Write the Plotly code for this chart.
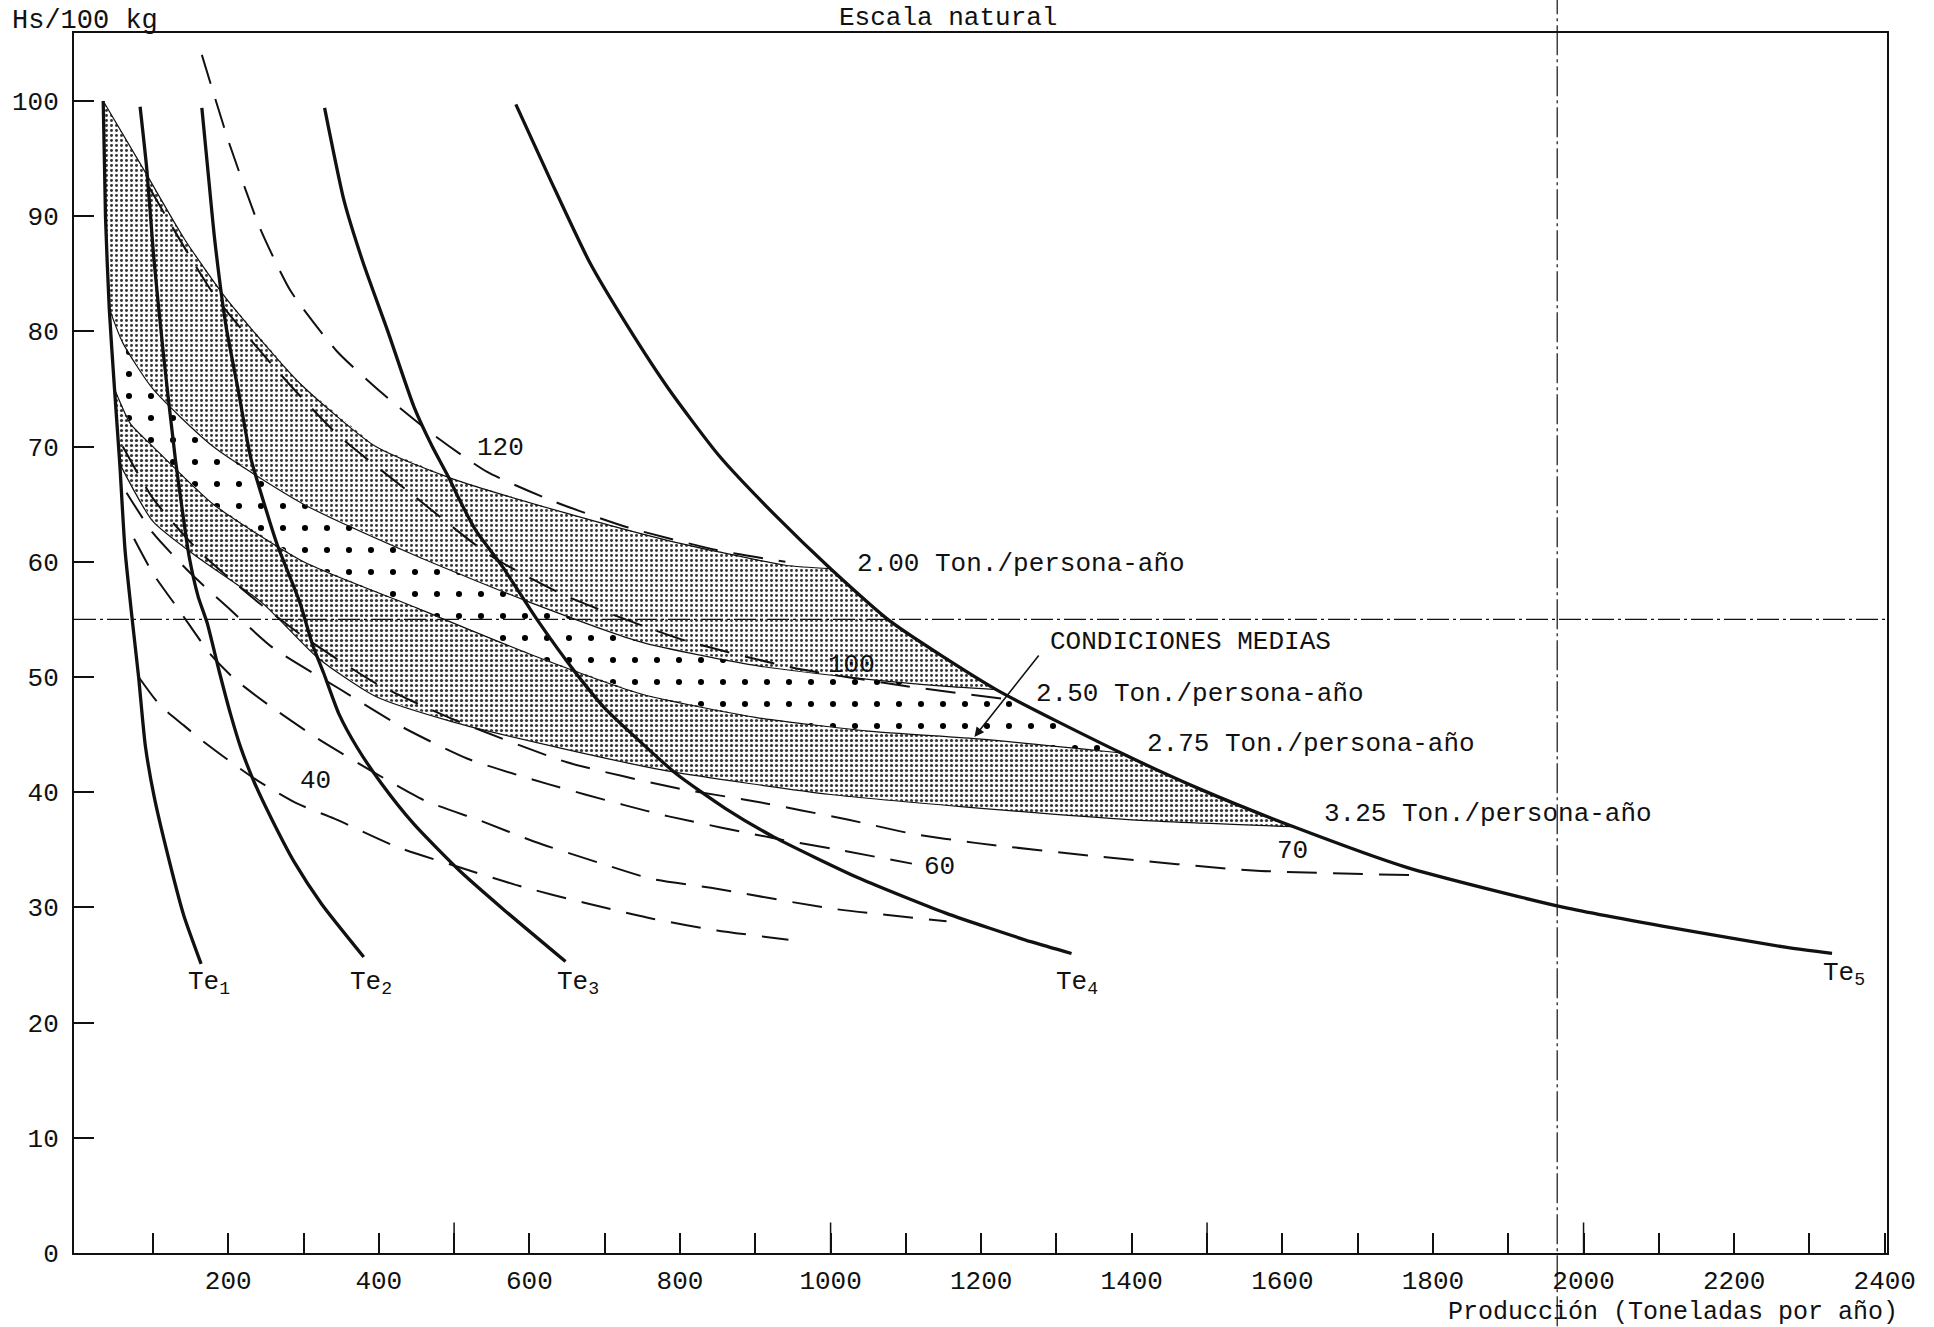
import plotly.graph_objects as go

# ---------------- data ----------------
# Te curves (thick solid)
te1_x = [34, 37, 42, 49, 56, 63, 73, 81, 90, 102, 123, 141, 164]
te1_y = [100, 90, 82, 75, 68.5, 61, 54.7, 50, 44, 39.5, 33.7, 29.3, 25.1]
te2_x = [83, 92, 101, 114, 130, 139, 148, 160, 172, 188, 203, 217, 235, 259, 288, 324, 380]
te2_y = [99.5, 94, 86.5, 78, 68.8, 64.5, 60.5, 57, 54.7, 50.5, 46.8, 43.8, 40.8, 37.5, 33.9, 30.3, 25.7]
te3_x = [165, 173, 182, 197, 213, 230, 248, 265, 295, 312, 327, 347, 371, 403, 447, 507, 566, 648]
te3_y = [99.4, 94, 88, 80.5, 75, 69, 65, 61.5, 56.5, 52.8, 50.3, 46.8, 43.9, 40.8, 37.2, 33.2, 29.8, 25.3]
te4_x = [328, 354, 379, 412, 447, 471, 493, 507, 529, 564, 610, 661, 700, 737, 795, 860, 925, 1039, 1153, 1267, 1320]
te4_y = [99.4, 91.3, 86, 80, 73.4, 70, 67.3, 65.4, 62.7, 59.6, 55, 50.4, 47.3, 45, 41.6, 38.6, 36.1, 32.5, 29.5, 27, 26]
te5_x = [582, 629, 680, 730, 785, 852, 927, 1000, 1080, 1220, 1386, 1493, 1615, 1764, 1974, 2137, 2272, 2330]
te5_y = [99.7, 93, 86, 80.5, 75, 69.2, 64, 59.4, 54.8, 48.9, 43.4, 40.2, 37, 33.5, 30, 28, 26.5, 26]

# Ton./persona-ano band boundaries (thin solid)
b200_x = [34, 90, 142, 198, 295, 396, 498, 650, 787, 940, 1000]
b200_y = [100, 93.8, 88, 82.8, 75.5, 70, 67.2, 64.2, 61.8, 59.7, 59.4]
b250_x = [42, 60, 100, 180, 300, 450, 600, 750, 900, 1050, 1150, 1220]
b250_y = [82, 79, 75, 70, 65, 60.5, 56.5, 53, 51, 49.8, 49.2, 48.9]
b275_x = [49, 70, 100, 180, 300, 450, 600, 750, 900, 1050, 1200, 1386]
b275_y = [75, 72, 70, 65, 60, 56, 52, 48.5, 46.5, 45.3, 44.6, 43.4]
b325_x = [56, 100, 157, 244, 320, 396, 498, 650, 787, 1000, 1200, 1400, 1615]
b325_y = [68.5, 63.5, 60.5, 56.5, 51.6, 48.3, 46.1, 43.7, 41.8, 39.8, 38.6, 37.6, 37]

# dashed iso-lines
d120_x = [165, 202, 242, 283, 344, 405, 471, 544, 634, 730, 850, 940]
d120_y = [104, 96.2, 89, 83.5, 78.3, 74.6, 71.1, 67.8, 65.2, 63, 61, 60]
d100_x = [95, 183, 280, 346, 447, 549, 650, 805, 950, 1101, 1244]
d100_y = [92.5, 83, 75.5, 71, 65.7, 60.5, 57, 53.2, 50.8, 49.2, 48]
d70_x = [60, 100, 160, 230, 300, 400, 500, 650, 800, 900, 1024, 1108, 1192, 1358, 1561, 1773]
d70_y = [70, 65.5, 61, 57, 53.5, 49.3, 46.3, 42.6, 40.3, 39.2, 37.6, 36.4, 35.6, 34.4, 33.2, 32.8]
d60_x = [65, 100, 150, 200, 260, 347, 430, 518, 625, 725, 785, 925, 1010, 1108]
d60_y = [66, 62.5, 59, 56, 52.5, 49, 45.7, 42.9, 40.7, 38.9, 37.9, 36, 35, 33.8]
d50_x = [75, 100, 137, 176, 209, 253, 320, 394, 460, 536, 607, 696, 761, 841, 1001, 1154]
d50_y = [62, 59, 55.6, 52, 49.8, 47.6, 44.6, 41.7, 39.3, 37.5, 35.7, 33.8, 32.5, 31.7, 29.9, 28.8]
d40_x = [81, 110, 141, 163, 206, 239, 292, 341, 422, 506, 590, 673, 765, 849, 944]
d40_y = [50, 47.5, 45.8, 44.6, 42.5, 41, 39, 37.7, 35.3, 33.5, 31.8, 30.4, 29, 28, 27.2]

# reference lines
h_line_y = 55
v_line_x = 1965

# axis ticks
x_tick_vals = list(range(100, 2401, 100))
x_tick_text = [str(v) if v % 200 == 0 else "" for v in x_tick_vals]
x_long_ticks = [500, 1000, 1500, 2000]
y_tick_vals = list(range(0, 101, 10))

FONT = "Liberation Mono"
BLACK = "#111111"

# ---------------- helpers ----------------
def band(top_x, top_y, bot_x, bot_y):
    xs, ys = list(top_x), list(top_y)
    xa, xb = top_x[-1], bot_x[-1]
    for x, y in zip(te5_x, te5_y):
        if xa < x < xb:
            xs.append(x); ys.append(y)
    xs += bot_x[::-1]; ys += bot_y[::-1]
    ya, yb = bot_y[0], top_y[0]
    for x, y in reversed(list(zip(te1_x, te1_y))):
        if ya < y < yb:
            xs.append(x); ys.append(y)
    return xs, ys

fig = go.Figure()

fine_up = dict(shape=".", size=5, solidity=0.27, fgcolor="#333333", fgopacity=1, bgcolor="white")
fine_lo = dict(shape=".", size=5, solidity=0.32, fgcolor="#333333", fgopacity=1, bgcolor="white")
coarse = dict(shape=".", size=22, solidity=0.06, fgcolor="black", fgopacity=1, bgcolor="white")

for (tx, ty, bx, by, pat) in [
    (b200_x, b200_y, b250_x, b250_y, fine_up),
    (b250_x, b250_y, b275_x, b275_y, coarse),
    (b275_x, b275_y, b325_x, b325_y, fine_lo),
]:
    px, py = band(tx, ty, bx, by)
    fig.add_trace(go.Scatter(x=px, y=py, fill="toself", mode="none",
                             fillcolor="white", fillpattern=pat,
                             hoverinfo="skip", showlegend=False))

# thin band boundaries
for bx, by in [(b200_x, b200_y), (b250_x, b250_y), (b275_x, b275_y), (b325_x, b325_y)]:
    fig.add_trace(go.Scatter(x=bx, y=by, mode="lines",
                             line=dict(color=BLACK, width=1.2, shape="spline", smoothing=0.6),
                             hoverinfo="skip", showlegend=False))

# dashed iso lines
for dx, dy in [(d120_x, d120_y), (d100_x, d100_y), (d70_x, d70_y),
               (d60_x, d60_y), (d50_x, d50_y), (d40_x, d40_y)]:
    fig.add_trace(go.Scatter(x=dx, y=dy, mode="lines",
                             line=dict(color=BLACK, width=2, dash="30px,16px",
                                       shape="spline", smoothing=0.6),
                             hoverinfo="skip", showlegend=False))

# Te curves
for tx, ty in [(te1_x, te1_y), (te2_x, te2_y), (te3_x, te3_y), (te4_x, te4_y), (te5_x, te5_y)]:
    fig.add_trace(go.Scatter(x=tx, y=ty, mode="lines",
                             line=dict(color=BLACK, width=3.3, shape="spline", smoothing=0.6),
                             hoverinfo="skip", showlegend=False))

# reference lines
fig.add_shape(type="line", xref="paper", yref="y", x0=0, x1=1, y0=h_line_y, y1=h_line_y,
              line=dict(color=BLACK, width=1.2, dash="22px,4px,3px,4px"))
fig.add_shape(type="line", xref="x", yref="paper", x0=v_line_x, x1=v_line_x, y0=-0.06, y1=1.027,
              line=dict(color=BLACK, width=1.2, dash="30px,4px,3px,4px"))

# longer tick marks every 500
for v in x_long_ticks:
    fig.add_shape(type="line", xref="x", yref="paper", x0=v, x1=v, y0=0, y1=0.025,
                  line=dict(color=BLACK, width=1.5))

def txt(x, y, s, xanchor="left", size=26, xref="x", yref="y", yanchor="middle"):
    fig.add_annotation(x=x, y=y, text=s, xref=xref, yref=yref, showarrow=False,
                       xanchor=xanchor, yanchor=yanchor,
                       font=dict(family=FONT, size=size, color=BLACK))

txt(1032, 59.85, "2.00 Ton./persona-año")
txt(1270, 48.5, "2.50 Ton./persona-año")
txt(1417, 44.2, "2.75 Ton./persona-año")
txt(1653, 38.1, "3.25 Ton./persona-año")
txt(1289, 53, "CONDICIONES MEDIAS")
txt(561, 69.9, "120", xanchor="center")
txt(1028, 51, "100", xanchor="center")
txt(1614, 34.9, "70", xanchor="center")
txt(1145, 33.5, "60", xanchor="center")
txt(316, 41, "40", xanchor="center")
txt(175, 23.4, "Te<sub>1</sub>", xanchor="center")
txt(389, 23.4, "Te<sub>2</sub>", xanchor="center")
txt(664, 23.4, "Te<sub>3</sub>", xanchor="center")
txt(1327, 23.4, "Te<sub>4</sub>", xanchor="center")
txt(2346, 24.2, "Te<sub>5</sub>", xanchor="center")

txt(-0.0353, 1.0098, "Hs/100 kg", xref="paper", yref="paper", size=27)
txt(0.482, 1.012, "Escala natural", xanchor="center", xref="paper", yref="paper", size=26)
txt(1.007, -0.0485, "Producción (Toneladas por año)", xanchor="right",
    xref="paper", yref="paper", size=25)

# arrow for CONDICIONES MEDIAS
fig.add_annotation(x=1191, y=44.8, ax=1278, ay=52, xref="x", yref="y", axref="x", ayref="y",
                   showarrow=True, arrowhead=2, arrowsize=1.2, arrowwidth=1.6,
                   arrowcolor=BLACK, text="")

fig.update_layout(
    width=1934, height=1327,
    margin=dict(l=74, r=47, t=33, b=74),
    paper_bgcolor="white", plot_bgcolor="white",
    showlegend=False,
    xaxis=dict(range=[-4.8, 2403], showgrid=False, zeroline=False,
               showline=True, linecolor=BLACK, linewidth=2, mirror=True,
               ticks="inside", ticklen=20, tickwidth=1.5, tickcolor=BLACK,
               tickvals=x_tick_vals, ticktext=x_tick_text, ticklabelstandoff=3,
               tickfont=dict(family=FONT, size=26, color=BLACK)),
    yaxis=dict(range=[0, 105.9], showgrid=False, zeroline=False,
               showline=True, linecolor=BLACK, linewidth=2, mirror=True,
               ticks="inside", ticklen=20, tickwidth=1.5, tickcolor=BLACK,
               tickvals=y_tick_vals, ticklabelstandoff=8,
               tickfont=dict(family=FONT, size=26, color=BLACK)),
)

fig.write_html("out.html")
